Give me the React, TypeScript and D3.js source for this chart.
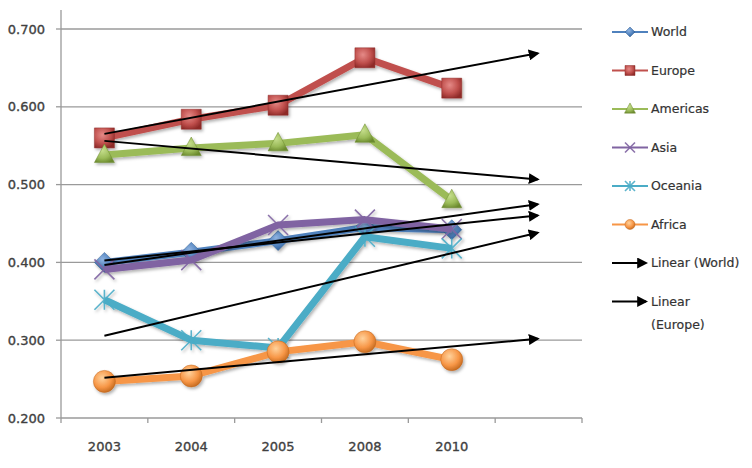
import React from "react";
import * as d3 from "d3";

// Regional index values by survey year, with one empty forecast slot at the end
const categories = ["2003", "2004", "2005", "2008", "2010", ""];
const world = [0.4, 0.413, 0.428, 0.445, 0.442];
const europe = [0.56, 0.584, 0.602, 0.663, 0.624];
const americas = [0.538, 0.547, 0.553, 0.564, 0.48];
const asia = [0.391, 0.403, 0.448, 0.455, 0.443];
const oceania = [0.352, 0.3, 0.29, 0.433, 0.418];
const africa = [0.247, 0.254, 0.285, 0.298, 0.275];
const yTicks = [0.2, 0.3, 0.4, 0.5, 0.6, 0.7];

type Shape = "diamond" | "square" | "triangle" | "x" | "star" | "circle";
interface Series {
  name: string;
  values: number[];
  color: string;
  dark: string;
  light: string;
  shape: Shape;
}

const series: Series[] = [
  { name: "World", values: world, color: "#4F81BD", dark: "#2c5a91", light: "#8fb3e0", shape: "diamond" },
  { name: "Europe", values: europe, color: "#C0504D", dark: "#8e2a28", light: "#e58a87", shape: "square" },
  { name: "Americas", values: americas, color: "#9BBB59", dark: "#6b8a2e", light: "#c5de8c", shape: "triangle" },
  { name: "Asia", values: asia, color: "#8064A2", dark: "#5a4079", light: "#b29dd0", shape: "x" },
  { name: "Oceania", values: oceania, color: "#4BACC6", dark: "#2a7f97", light: "#9ad7e8", shape: "star" },
  { name: "Africa", values: africa, color: "#F79646", dark: "#c0661b", light: "#ffd29c", shape: "circle" },
];

const W = 752;
const H = 468;
const plot = { left: 61, right: 582, top: 10, bottom: 418 };

const x = d3.scaleBand<number>().domain(d3.range(categories.length)).range([plot.left, plot.right]).padding(0);
const cx = (i: number) => (x(i) as number) + x.bandwidth() / 2;
const y = d3.scaleLinear().domain([0.2, 0.7]).range([plot.bottom, 29]);

// Least-squares linear fit over category index
function linearFit(vals: number[]) {
  const xs = vals.map((_, i) => i);
  const mx = d3.mean(xs) as number;
  const my = d3.mean(vals) as number;
  const num = d3.sum(xs, (xi, i) => (xi - mx) * (vals[i] - my));
  const den = d3.sum(xs, (xi) => (xi - mx) * (xi - mx));
  const slope = num / den;
  return (xi: number) => my + slope * (xi - mx);
}

function markerPath(shape: Shape, s: number): string {
  const h = s / 2;
  switch (shape) {
    case "diamond":
      return `M0,${-h}L${h},0L0,${h}L${-h},0Z`;
    case "square":
      return `M${-h},${-h}H${h}V${h}H${-h}Z`;
    case "triangle":
      return `M0,${-h * 1.1}L${h},${h * 0.75}L${-h},${h * 0.75}Z`;
    case "circle":
      return d3.arc()({ innerRadius: 0, outerRadius: h, startAngle: 0, endAngle: 2 * Math.PI }) as string;
    case "x":
      return `M${-h},${-h}L${h},${h}M${h},${-h}L${-h},${h}`;
    case "star":
      return `M${-h},${-h}L${h},${h}M${h},${-h}L${-h},${h}M0,${-h}V${h}`;
  }
}

function Marker({ s, shape, size, x0, y0 }: { s: Series; shape: Shape; size: number; x0: number; y0: number }) {
  const d = markerPath(shape, size);
  const stroked = shape === "x" || shape === "star";
  return (
    <path
      transform={`translate(${x0},${y0})`}
      d={d}
      fill={stroked ? "none" : `url(#grad-${s.name})`}
      stroke={stroked ? s.color : s.dark}
      strokeWidth={stroked ? 1.6 : 0.8}
      strokeOpacity={stroked ? 0.9 : 0.6}
    />
  );
}

export default function App() {
  const line = d3
    .line<number>()
    .x((_, i) => cx(i))
    .y((v) => y(v));

  const legendItems = [...series.map((s) => s.name), "Linear (World)", "Linear (Europe)"];
  const legendY = (i: number) => 32 + i * 38.5;

  const font = "'DejaVu Sans', 'Liberation Sans', sans-serif";
  const textStyle = { paintOrder: "stroke" as const };

  return (
    <svg
      width={W}
      height={H}
      viewBox={`0 0 ${W} ${H}`}
      style={{ position: "absolute", left: 0, top: 0, background: "#fff" }}
    >
      <defs>
        <filter id="shadow" x="-20%" y="-20%" width="140%" height="140%">
          <feDropShadow dx="1.5" dy="2" stdDeviation="1.4" floodColor="#000" floodOpacity="0.3" />
        </filter>
        <marker id="arrow" viewBox="0 0 10 10" refX="8" refY="5" markerWidth="5.5" markerHeight="5.5" orient="auto">
          <path d="M0,0L10,5L0,10Z" fill="#000" />
        </marker>
        {series.map((s) => (
          <radialGradient key={s.name} id={`grad-${s.name}`} cx="40%" cy="35%" r="70%">
            <stop offset="0%" stopColor={s.light} />
            <stop offset="60%" stopColor={s.color} />
            <stop offset="100%" stopColor={s.dark} />
          </radialGradient>
        ))}
      </defs>

      {/* gridlines */}
      {yTicks.map((t) => (
        <line key={t} x1={plot.left} x2={plot.right} y1={y(t)} y2={y(t)} stroke="#9a9a9a" strokeWidth={1.3} />
      ))}

      {/* axes */}
      <line x1={plot.left} x2={plot.left} y1={plot.top} y2={plot.bottom} stroke="#9a9a9a" strokeWidth={1.3} />
      {yTicks.map((t) => (
        <line key={`yt${t}`} x1={plot.left - 5} x2={plot.left} y1={y(t)} y2={y(t)} stroke="#9a9a9a" strokeWidth={1.3} />
      ))}
      {d3.range(categories.length + 1).map((i) => {
        const xx = plot.left + i * x.bandwidth();
        return <line key={`xt${i}`} x1={xx} x2={xx} y1={plot.bottom} y2={plot.bottom + 5} stroke="#9a9a9a" strokeWidth={1.3} />;
      })}

      {yTicks.map((t) => (
        <text
          key={`yl${t}`}
          x={45}
          y={y(t)}
          dy="0.35em"
          textAnchor="end"
          fontFamily={font}
          fontSize={13}
          fill="#404040"
          stroke="#404040"
          strokeWidth={0.35}
          style={textStyle}
        >
          {t.toFixed(3)}
        </text>
      ))}
      {categories.map((c, i) => (
        <text
          key={`xl${i}`}
          x={cx(i)}
          y={451}
          textAnchor="middle"
          fontFamily={font}
          fontSize={13}
          fill="#404040"
          stroke="#404040"
          strokeWidth={0.35}
          style={textStyle}
        >
          {c}
        </text>
      ))}

      {/* data series */}
      {series.map((s) => (
        <g key={s.name} filter="url(#shadow)">
          <path d={line(s.values) as string} fill="none" stroke={s.color} strokeWidth={7} strokeLinejoin="round" />
          {s.values.map((v, i) => (
            <Marker key={i} s={s} shape={s.shape} size={s.shape === "circle" ? 22 : 20} x0={cx(i)} y0={y(v)} />
          ))}
        </g>
      ))}

      {/* linear trendlines with one-period forecast */}
      {series.map((s) => {
        const f = linearFit(s.values);
        const last = categories.length - 1;
        return (
          <line
            key={`trend-${s.name}`}
            x1={cx(0)}
            y1={y(f(0))}
            x2={cx(last) - 1}
            y2={y(f(last))}
            stroke="#000"
            strokeWidth={2}
            markerEnd="url(#arrow)"
          />
        );
      })}

      {/* legend */}
      {legendItems.map((name, i) => {
        const ly = legendY(i);
        const s = series[i];
        return (
          <g key={name}>
            {s ? (
              <>
                <line x1={612} x2={648} y1={ly} y2={ly} stroke={s.color} strokeWidth={2} />
                <Marker s={s} shape={s.shape} size={s.shape === "triangle" ? 11 : 10} x0={630} y0={ly} />
              </>
            ) : (
              <line x1={612} x2={646} y1={ly} y2={ly} stroke="#000" strokeWidth={2} markerEnd="url(#arrow)" />
            )}
            {name === "Linear (Europe)" ? (
              <text x={651} y={ly} dy="0.35em" fontFamily={font} fontSize={12.5} fill="#333" stroke="#333" strokeWidth={0.2} style={textStyle}>
                <tspan x={651}>Linear</tspan>
                <tspan x={651} dy={23}>(Europe)</tspan>
              </text>
            ) : (
              <text x={651} y={ly} dy="0.35em" fontFamily={font} fontSize={12.5} fill="#333" stroke="#333" strokeWidth={0.2} style={textStyle}>
                {name}
              </text>
            )}
          </g>
        );
      })}
    </svg>
  );
}
